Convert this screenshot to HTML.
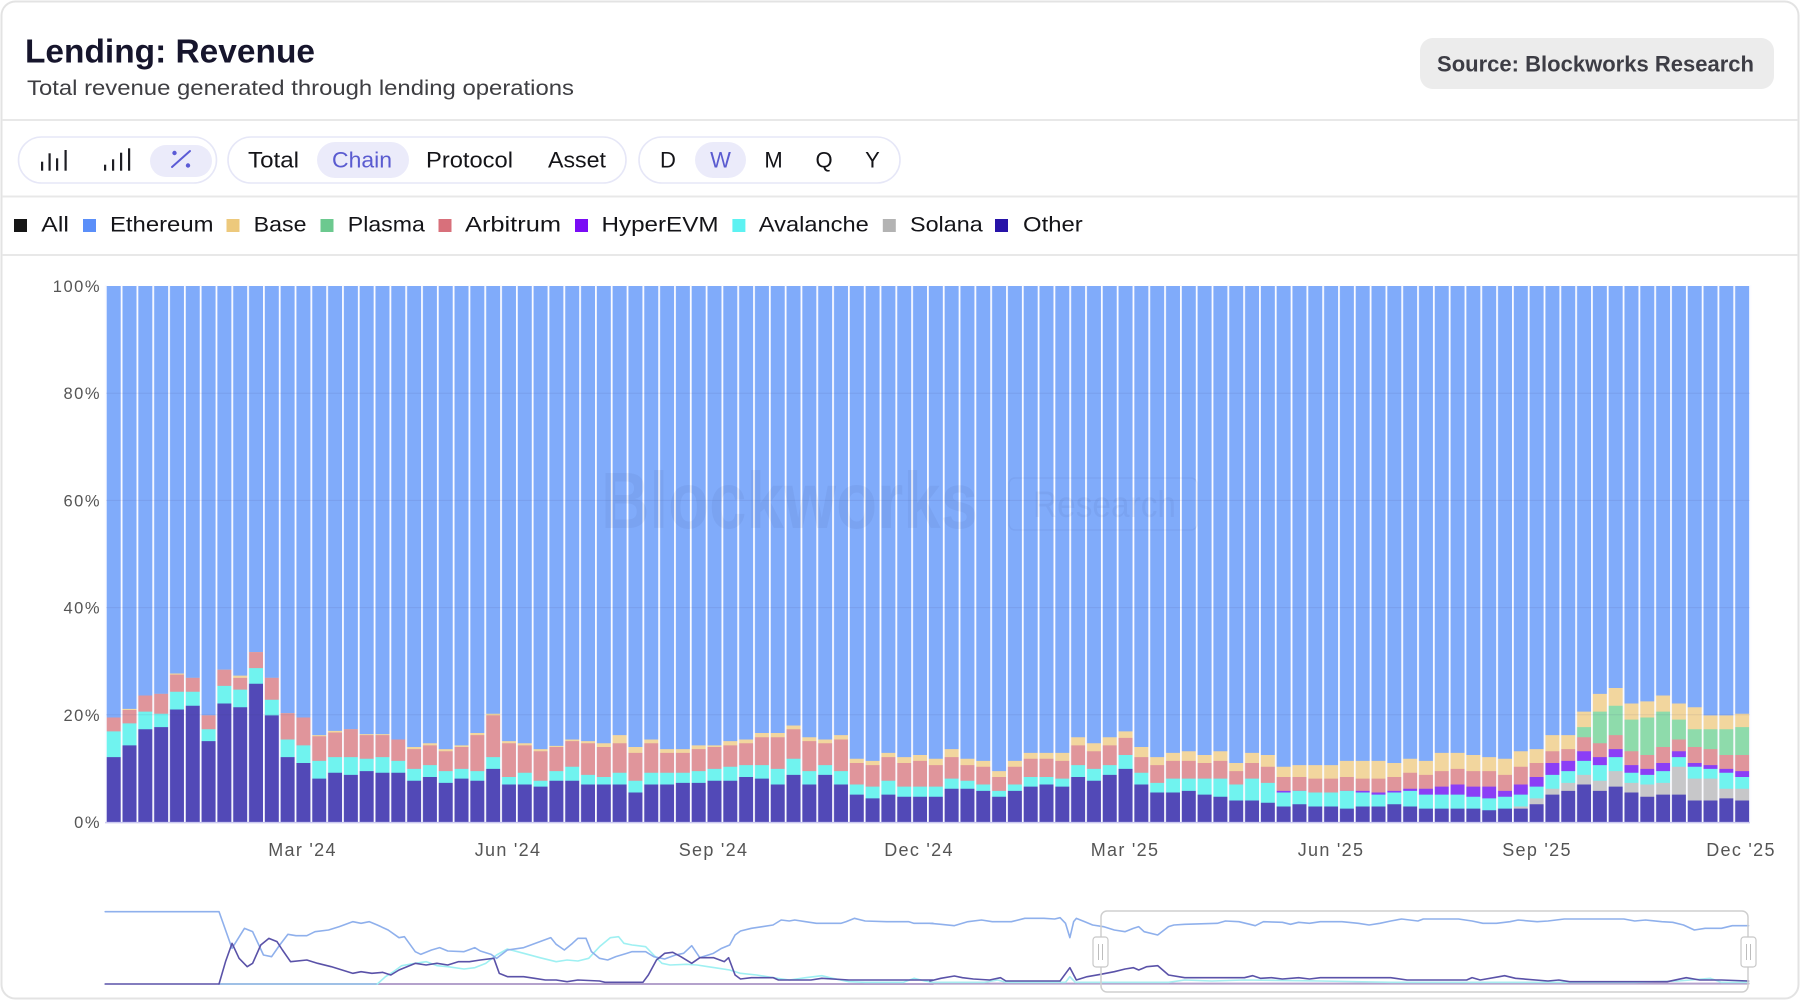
<!DOCTYPE html>
<html>
<head>
<meta charset="utf-8">
<style>
  html,body{margin:0;padding:0;background:#fff;}
  body{width:1800px;height:1000px;overflow:hidden;}
  svg{display:block;}
</style>
</head>
<body>
<svg width="1800" height="1000" viewBox="0 0 1800 1000" font-family="'Liberation Sans', Arial, sans-serif">
  <defs>
    <pattern id="gaps" patternUnits="userSpaceOnUse" x="104.9" y="0" width="15.81" height="1000">
      <rect x="0" y="0" width="1.8" height="1000" fill="#fbfbff"/>
    </pattern>
  </defs>

  <!-- card -->
  <rect x="1.5" y="1.5" width="1797" height="997" rx="14" fill="#fff" stroke="#e3e3e3" stroke-width="2"/>

  <!-- header -->
  <text x="25" y="62.5" font-size="33.5" font-weight="bold" fill="#16152c" textLength="290" lengthAdjust="spacingAndGlyphs">Lending: Revenue</text>
  <text x="27" y="95" font-size="21" fill="#3e3e42" textLength="547" lengthAdjust="spacingAndGlyphs">Total revenue generated through lending operations</text>

  <rect x="1420" y="38" width="354" height="51" rx="13" fill="#ececec"/>
  <text x="1437" y="71.5" font-size="22" font-weight="bold" fill="#3d3d45" textLength="317" lengthAdjust="spacingAndGlyphs">Source: Blockworks Research</text>

  <rect x="2" y="119" width="1796" height="2" fill="#e8e8e8"/>
  <rect x="2" y="195.5" width="1796" height="2" fill="#e8e8e8"/>
  <rect x="2" y="254" width="1796" height="2" fill="#e8e8e8"/>

  <!-- toolbar group 1 -->
  <rect x="18.5" y="137" width="198" height="46" rx="23" fill="#fff" stroke="#e6e7f7" stroke-width="1.6"/>
  <g fill="#1e1e24">
    <rect x="41" y="161.7" width="2.2" height="9"/>
    <rect x="48.5" y="153.3" width="2.2" height="17.4"/>
    <rect x="56" y="158.3" width="2.2" height="12.4"/>
    <rect x="64.5" y="150" width="2.2" height="20.7"/>
    <rect x="104" y="164.7" width="2.2" height="6"/>
    <rect x="112" y="159.3" width="2.2" height="11.4"/>
    <rect x="120" y="152.7" width="2.2" height="18"/>
    <rect x="128" y="148.3" width="2.2" height="22.4"/>
  </g>
  <rect x="150" y="145" width="62" height="32" rx="16" fill="#ebebfa"/>
  <line x1="172" y1="167" x2="190" y2="151" stroke="#5b5bd6" stroke-width="2" stroke-linecap="round"/>
  <circle cx="174.5" cy="153" r="2.2" fill="#5b5bd6"/>
  <circle cx="188" cy="165.5" r="2.2" fill="#5b5bd6"/>

  <!-- toolbar group 2 -->
  <rect x="228" y="137" width="398" height="46" rx="23" fill="#fff" stroke="#e6e7f7" stroke-width="1.6"/>
  <rect x="317" y="142" width="92" height="36" rx="18" fill="#ebebfa"/>
  <g font-size="22" fill="#141418">
    <text x="248" y="167.5" textLength="51" lengthAdjust="spacingAndGlyphs">Total</text>
    <text x="332" y="167.5" fill="#5a5bd0" textLength="60" lengthAdjust="spacingAndGlyphs">Chain</text>
    <text x="426" y="167.5" textLength="87" lengthAdjust="spacingAndGlyphs">Protocol</text>
    <text x="548" y="167.5" textLength="58" lengthAdjust="spacingAndGlyphs">Asset</text>
  </g>

  <!-- toolbar group 3 -->
  <rect x="639" y="137" width="261" height="46" rx="23" fill="#fff" stroke="#e6e7f7" stroke-width="1.6"/>
  <rect x="695" y="142" width="51" height="36" rx="18" fill="#ebebfa"/>
  <g font-size="22" fill="#141418" text-anchor="middle">
    <text x="668" y="167.5">D</text>
    <text x="720.5" y="167.5" fill="#5a5bd0">W</text>
    <text x="773.5" y="167.5">M</text>
    <text x="824" y="167.5">Q</text>
    <text x="872.5" y="167.5">Y</text>
  </g>

  <!-- legend -->
  <g font-size="21.5" fill="#141418">
    <rect x="14" y="219" width="13" height="13" fill="#161616"/>
    <text x="41.3" y="231.7" textLength="27.6" lengthAdjust="spacingAndGlyphs">All</text>
    <rect x="83" y="219" width="13" height="13" fill="#5b8ff9"/>
    <text x="110" y="231.7" textLength="103.5" lengthAdjust="spacingAndGlyphs">Ethereum</text>
    <rect x="226.5" y="219" width="13" height="13" fill="#edc97c"/>
    <text x="253.7" y="231.7" textLength="52.8" lengthAdjust="spacingAndGlyphs">Base</text>
    <rect x="320.5" y="219" width="13" height="13" fill="#6cc98f"/>
    <text x="347.8" y="231.7" textLength="77" lengthAdjust="spacingAndGlyphs">Plasma</text>
    <rect x="438.5" y="219" width="13" height="13" fill="#d8707b"/>
    <text x="465" y="231.7" textLength="96" lengthAdjust="spacingAndGlyphs">Arbitrum</text>
    <rect x="575" y="219" width="13" height="13" fill="#7a0cf5"/>
    <text x="601.5" y="231.7" textLength="117" lengthAdjust="spacingAndGlyphs">HyperEVM</text>
    <rect x="732.4" y="219" width="13" height="13" fill="#5df2f2"/>
    <text x="758.8" y="231.7" textLength="110" lengthAdjust="spacingAndGlyphs">Avalanche</text>
    <rect x="882.8" y="219" width="13" height="13" fill="#b3b3b3"/>
    <text x="910" y="231.7" textLength="72.7" lengthAdjust="spacingAndGlyphs">Solana</text>
    <rect x="995" y="219" width="13" height="13" fill="#2713a8"/>
    <text x="1023" y="231.7" textLength="59.7" lengthAdjust="spacingAndGlyphs">Other</text>
  </g>

  <!-- y axis labels -->
  <g font-size="16.5" fill="#555" text-anchor="end" letter-spacing="1.5">
    <text x="101" y="292">100%</text>
    <text x="101" y="399.2">80%</text>
    <text x="101" y="506.4">60%</text>
    <text x="101" y="613.6">40%</text>
    <text x="101" y="720.8">20%</text>
    <text x="101" y="828">0%</text>
  </g>

  <!-- bars -->
  <g transform="translate(105.8,822) scale(15.81,-5.36)">
    <rect x="0" y="0" width="104" height="100" fill="#80abfa"/>
    <path fill="#f2d69e" d="M0 0V19.5H1V21.1H2V23.6H3V23.9H4V27.7H5V26.9H6V19.9H7V28.4H8V27.3H9V31.7H10V26.9H11V20.3H12V19.5H13V16.2H14V17H15V17.3H16V16.4H17V16.4H18V15.4H19V14H20V14.7H21V13.6H22V14.3H23V16.6H24V20.2H25V15.1H26V14.7H27V13.6H28V14.2H29V15.4H30V15.1H31V14.7H32V16.2H33V14H34V15.4H35V13.6H36V13.6H37V14.3H38V14.3H39V15.1H40V15.4H41V16.6H42V16.6H43V18H44V15.8H45V15.4H46V16.2H47V11.8H48V11.4H49V12.9H50V12.1H51V12.5H52V11.8H53V13.6H54V11.8H55V11.4H56V9.5H57V11.4H58V12.9H59V12.9H60V12.9H61V15.8H62V14.7H63V15.8H64V16.9H65V14H66V12.1H67V12.9H68V13.2H69V12.5H70V13.2H71V11H72V12.9H73V12.5H74V10.3H75V10.6H76V10.6H77V10.6H78V11.4H79V11.4H80V11.4H81V11H82V11.8H83V11.4H84V12.9H85V12.9H86V12.5H87V12.1H88V11.8H89V13.2H90V13.6H91V16.2H92V16.2H93V20.6H94V23.9H95V25H96V22.1H97V22.5H98V23.6H99V22.1H100V21.4H101V19.9H102V19.9H103V20.2H104V0Z"/>
    <path fill="#8edbab" d="M93 0V17.7H94V20.6H95V21.7H96V19.1H97V19.5H98V20.6H99V19.1H100V17.3H101V17.3H102V17.3H103V17.7H104V0Z"/>
    <path fill="#e0959b" d="M0 0V19.5H1V20.9H2V23.6H3V23.9H4V27.5H5V26.9H6V19.9H7V28.4H8V26.9H9V31.7H10V26.9H11V20.3H12V19.5H13V16H14V16.7H15V17.3H16V16.2H17V16.2H18V15.4H19V13.6H20V14.3H21V13.2H22V14H23V16.2H24V19.9H25V14.7H26V14.3H27V13.2H28V14H29V15.1H30V14.7H31V14H32V14.7H33V12.9H34V14.7H35V12.9H36V12.9H37V13.6H38V14H39V14.3H40V14.7H41V15.8H42V15.8H43V17.3H44V15.1H45V14.7H46V15.4H47V11H48V10.6H49V12.1H50V11H51V11.4H52V10.6H53V12.1H54V10.6H55V10.3H56V8.4H57V10.3H58V11.8H59V11.8H60V11.4H61V14.3H62V13.2H63V14.3H64V15.7H65V12.1H66V10.6H67V11.4H68V11.4H69V11H70V11.4H71V9.5H72V11H73V10.3H74V8.4H75V8.4H76V8.1H77V8.1H78V8.4H79V8.1H80V8.1H81V8.4H82V9.2H83V8.8H84V9.5H85V9.9H86V9.5H87V9.5H88V8.8H89V10.3H90V11H91V13.2H92V13.6H93V15.8H94V14.7H95V16.2H96V13.2H97V12.5H98V14H99V15.4H100V14H101V13.6H102V12.5H103V12.5H104V0Z"/>
    <path fill="#8b3ef6" d="M74 0V5.8H75V5.8H76V5.5H77V5.5H78V5.8H79V5.8H80V5.5H81V5.8H82V6.2H83V6.2H84V6.6H85V7H86V6.6H87V6.6H88V5.8H89V7H90V8.4H91V11H92V11.4H93V13.2H94V12.1H95V13.6H96V10.6H97V9.9H98V11H99V13.2H100V11H101V10.6H102V9.9H103V9.5H104V0Z"/>
    <path fill="#70f3ef" d="M0 0V16.9H1V18.4H2V20.6H3V20.2H4V24.3H5V24.3H6V17.3H7V25.4H8V24.7H9V28.7H10V22.8H11V15.4H12V14.3H13V11.4H14V12.1H15V12.1H16V11.8H17V12.1H18V11.4H19V9.9H20V10.6H21V9.5H22V9.9H23V9.5H24V12.1H25V8.4H26V9.2H27V7.7H28V9.5H29V10.3H30V8.8H31V8.4H32V9.2H33V7.7H34V9.2H35V9.2H36V9.2H37V9.5H38V9.9H39V10.3H40V10.6H41V10.6H42V9.9H43V11.8H44V9.5H45V10.6H46V9.5H47V7H48V6.6H49V7.7H50V6.6H51V6.6H52V6.6H53V8.1H54V7.7H55V7H56V5.8H57V7H58V8.4H59V8.4H60V8.1H61V10.6H62V9.9H63V10.6H64V12.5H65V9.2H66V7.3H67V8.1H68V8.1H69V8.1H70V8.1H71V7H72V8.1H73V7.3H74V5.5H75V5.8H76V5.5H77V5.5H78V5.8H79V5.5H80V5.1H81V5.5H82V5.8H83V5.1H84V5.1H85V5.1H86V4.7H87V4.4H88V4.7H89V5.1H90V6.6H91V8.8H92V9.5H93V11.4H94V10.6H95V12.1H96V9.2H97V8.8H98V9.5H99V12.1H100V10.3H101V9.9H102V9.2H103V8.4H104V0Z"/>
    <path fill="#c7c7c9" d="M89 0V2.9H90V4.4H91V6.2H92V7.3H93V8.8H94V7.7H95V9.5H96V7.3H97V7H98V7.3H99V10.3H100V8.1H101V8.1H102V6.2H103V6.2H104V0Z"/>
    <path fill="#5249b7" d="M0 0V12.1H1V14.3H2V17.3H3V17.7H4V21H5V21.7H6V15.1H7V22.1H8V21.4H9V25.8H10V19.9H11V12.1H12V11H13V8.1H14V9.2H15V8.8H16V9.5H17V9.2H18V9.2H19V7.7H20V8.4H21V7.3H22V8.1H23V7.7H24V9.9H25V7H26V7H27V6.6H28V7.7H29V7.7H30V7H31V7H32V7H33V5.5H34V7H35V7H36V7.3H37V7.3H38V7.7H39V7.7H40V8.4H41V8.1H42V7H43V8.8H44V7H45V8.8H46V7H47V5.1H48V4.4H49V5.1H50V4.7H51V4.7H52V4.7H53V6.2H54V6.2H55V5.8H56V4.7H57V5.8H58V6.6H59V7H60V6.6H61V8.4H62V7.7H63V8.8H64V9.9H65V7H66V5.5H67V5.5H68V5.8H69V5.1H70V4.7H71V4H72V4H73V3.6H74V2.9H75V3.3H76V2.9H77V2.9H78V2.5H79V2.9H80V2.9H81V3.3H82V2.9H83V2.5H84V2.5H85V2.5H86V2.5H87V2.2H88V2.5H89V2.5H90V3.3H91V5.1H92V5.8H93V7H94V5.8H95V6.6H96V5.5H97V4.7H98V5.1H99V5.1H100V4H101V4H102V4.4H103V4H104V0Z"/>
  </g>
  <!-- gaps between bars -->
  <rect x="104" y="285" width="1648" height="537" fill="url(#gaps)"/>
  <!-- gridlines -->
  <g stroke="rgba(60,60,130,0.10)" stroke-width="1">
    <line x1="106" y1="393.2" x2="1750" y2="393.2"/>
    <line x1="106" y1="500.4" x2="1750" y2="500.4"/>
    <line x1="106" y1="607.6" x2="1750" y2="607.6"/>
    <line x1="106" y1="714.8" x2="1750" y2="714.8"/>
  </g>
  <line x1="105" y1="822.6" x2="1750" y2="822.6" stroke="#cbc9ef" stroke-width="1.5"/>

  <!-- watermark -->
  <g fill="rgba(40,50,110,0.06)">
    <text x="601" y="528" font-size="80" font-weight="bold" textLength="377" lengthAdjust="spacingAndGlyphs">Blockworks</text>
    <rect x="1009" y="478" width="188" height="52" rx="6" fill="none" stroke="rgba(40,50,110,0.06)" stroke-width="1.5"/>
    <text x="1033" y="517" font-size="37" textLength="143" lengthAdjust="spacingAndGlyphs">Research</text>
  </g>

  <!-- x axis labels -->
  <g font-size="18" fill="#555" text-anchor="middle" letter-spacing="1.3">
    <text x="302.5" y="856">Mar '24</text>
    <text x="508" y="856">Jun '24</text>
    <text x="713.5" y="856">Sep '24</text>
    <text x="919" y="856">Dec '24</text>
    <text x="1125" y="856">Mar '25</text>
    <text x="1331" y="856">Jun '25</text>
    <text x="1537" y="856">Sep '25</text>
    <text x="1741" y="856">Dec '25</text>
  </g>

  <!-- navigator -->
  <g transform="translate(90,895) scale(0.54209,0.33333)" fill="none" stroke-linejoin="round" stroke-linecap="round">
    <polyline vector-effect="non-scaling-stroke" stroke="#b4a2cc" stroke-width="2" points="530,267 1555,267"/>
    <polyline vector-effect="non-scaling-stroke" stroke="#9fc0e6" stroke-width="2" points="238,267 530,267"/>
    <polyline vector-effect="non-scaling-stroke" stroke="#9ff0f2" stroke-width="1.6" points="530,267 545,245 560,230 575,212 600,205 620,200 640,212 660,215 690,222 710,218 730,205 750,180 770,162 800,175 830,188 860,200 880,195 900,198 920,190 940,155 960,128 975,125 985,145 1000,150 1025,155 1040,180 1055,205 1070,210 1100,208 1120,210 1140,215 1160,220 1180,225 1200,235 1230,240 1260,248 1290,255 1320,248 1350,242 1370,250 1400,260 1430,262 1500,262 1520,250 1540,258 1555,262"/>
    <polyline vector-effect="non-scaling-stroke" stroke="#8fb0ec" stroke-width="1.6" points="28,50 238,50 262,160 285,100 300,110 320,180 335,185 350,150 365,118 380,122 400,122 415,110 440,105 460,95 485,80 500,85 515,80 530,90 550,105 570,128 580,125 600,170 610,178 630,165 645,158 660,168 690,170 710,158 720,168 740,178 750,190 770,165 800,158 830,140 850,128 860,148 875,165 890,145 900,130 915,130 925,170 940,190 955,195 970,185 990,175 1000,170 1025,170 1040,185 1060,192 1080,180 1095,175 1110,152 1125,188 1150,175 1165,160 1180,150 1190,120 1200,108 1220,100 1240,95 1260,90 1275,75 1290,78 1300,75 1320,80 1340,85 1385,85 1395,80 1410,70 1430,78 1470,80 1510,80 1520,85 1555,85"/>
    <polyline vector-effect="non-scaling-stroke" stroke="#5a52a8" stroke-width="1.6" points="28,267 238,267 250,200 262,145 275,190 290,215 300,205 315,150 330,130 345,140 355,165 370,200 400,195 420,205 445,215 465,225 485,235 500,230 520,235 540,232 555,240 570,225 600,205 620,210 640,205 660,210 680,200 700,200 720,195 745,190 755,235 770,245 800,245 820,250 840,255 860,255 880,260 900,255 940,258 950,262 1020,262 1030,240 1045,195 1060,175 1075,172 1090,185 1110,205 1125,188 1150,188 1170,200 1178,188 1190,240 1200,252 1220,248 1260,248 1270,255 1330,255 1350,250 1400,255 1555,255"/>
  </g>
  <g transform="translate(930,895) scale(0.54209,0.33333)" fill="none" stroke-linejoin="round" stroke-linecap="round">
    <polyline vector-effect="non-scaling-stroke" stroke="#b4a2cc" stroke-width="2" points="0,266 1510,266"/>
    <polyline vector-effect="non-scaling-stroke" stroke="#a8eef0" stroke-width="1.6" points="0,262 100,262 125,255 140,262 250,262 258,245 268,262 440,262 470,255 520,258 580,255 720,258 850,262 1300,262 1380,258 1440,250 1460,262 1510,262"/>
    <polyline vector-effect="non-scaling-stroke" stroke="#8fb0ec" stroke-width="1.6" points="0,85 20,88 45,92 70,80 95,75 115,80 150,80 175,70 210,70 230,72 240,68 250,85 258,128 265,80 270,70 285,80 300,90 320,95 340,105 360,110 375,100 385,95 395,110 420,120 440,95 450,90 470,88 530,85 545,78 570,80 590,88 600,92 615,80 650,82 665,88 680,82 700,85 720,80 760,80 790,85 810,90 830,85 850,78 870,72 900,78 910,72 940,72 975,72 1000,78 1020,85 1045,85 1070,80 1085,75 1120,80 1140,78 1170,72 1280,72 1300,78 1320,75 1350,80 1370,82 1390,90 1410,105 1430,100 1460,100 1480,92 1510,92"/>
    <polyline vector-effect="non-scaling-stroke" stroke="#5a52a8" stroke-width="1.6" points="0,258 20,250 45,243 60,248 80,252 110,255 130,248 140,258 240,258 258,218 270,255 290,245 315,238 340,230 360,222 375,218 385,225 400,215 420,212 440,240 470,248 580,248 595,242 610,250 630,248 650,252 680,248 700,252 720,248 850,248 880,255 990,255 1000,248 1015,255 1050,245 1060,242 1080,250 1140,258 1160,255 1180,260 1360,260 1395,248 1420,255 1460,255 1510,258"/>
  </g>
  <!-- navigator window -->
  <rect x="1101" y="911" width="647" height="81" rx="6" fill="none" stroke="#cfcfcf" stroke-width="1.5"/>
  <rect x="1093" y="937" width="15" height="30" rx="3" fill="#fff" stroke="#c8c8c8" stroke-width="1.2"/>
  <line x1="1098.5" y1="944" x2="1098.5" y2="960" stroke="#bdbdbd" stroke-width="1"/>
  <line x1="1102.5" y1="944" x2="1102.5" y2="960" stroke="#bdbdbd" stroke-width="1"/>
  <rect x="1741" y="937" width="15" height="30" rx="3" fill="#fff" stroke="#c8c8c8" stroke-width="1.2"/>
  <line x1="1746.5" y1="944" x2="1746.5" y2="960" stroke="#bdbdbd" stroke-width="1"/>
  <line x1="1750.5" y1="944" x2="1750.5" y2="960" stroke="#bdbdbd" stroke-width="1"/>
</svg>
</body>
</html>
